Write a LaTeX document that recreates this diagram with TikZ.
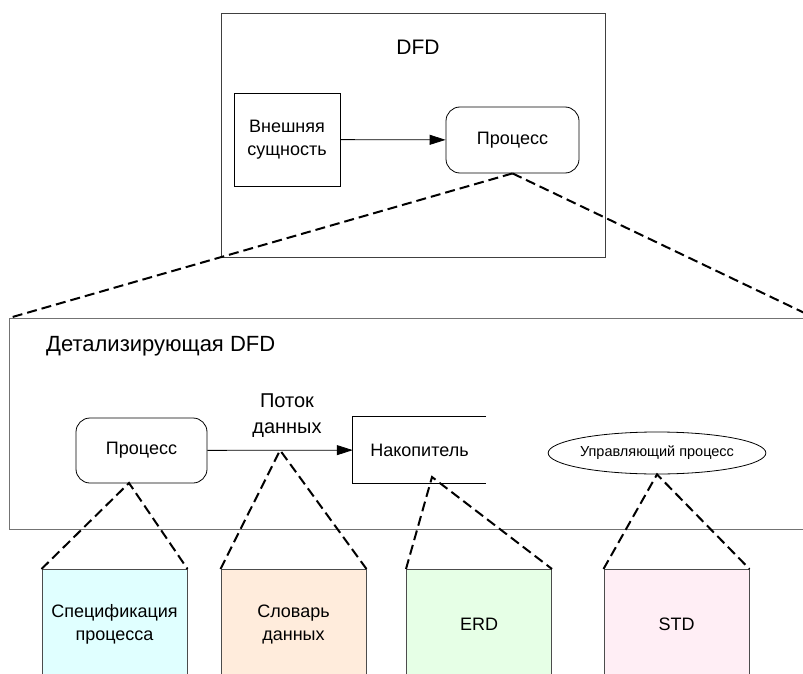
\documentclass[tikz,border=0pt]{standalone}
\usepackage{fontspec}
\setmainfont{Liberation Sans}
\usetikzlibrary{arrows.meta, shapes.geometric}
\definecolor{speccol}{RGB}{224,255,255}
\definecolor{dictcol}{RGB}{255,236,220}
\definecolor{erdcol}{RGB}{230,255,230}
\definecolor{stdcol}{RGB}{255,238,245}
\tikzset{every node/.append style={font=\fontsize{18}{23.5}\selectfont, align=center, inner sep=0pt}}
\tikzset{
  frame/.style={draw=black!75, line width=1pt},
  proc/.style={draw, rounded corners=14pt, line width=0.8pt},
  leaf/.style={draw=black!70, line width=1pt, minimum width=145pt, minimum height=110pt, anchor=north},
  zoomline/.style={line width=2pt, dash pattern=on 10pt off 5pt},
  flow/.style={line width=0.8pt, -{Triangle[length=16pt,width=10pt]}}
}

\begin{document}
\begin{tikzpicture}[x=1pt, y=-1pt]
    \path[use as bounding box] (0,0) rectangle (803,674);
    \clip (0,0) rectangle (803,674);
    % top level DFD
    \node[frame, minimum width=384pt, minimum height=244pt, anchor=north west] (dfd) at (221,13) {};
    \node[font=\fontsize{21}{24}\selectfont] (dfdtitle) at (418,47) {DFD};
    \node[draw, line width=0.8pt, minimum width=106pt, minimum height=93pt] (ext) at (287,139.5) {Внешняя\\сущность};
    \node[proc, minimum width=133pt, minimum height=66pt] (proc) at (512.5,140) {Процесс};
    \draw[flow] (ext) -- (proc);
    % detail DFD
    \node[draw=black!55, line width=1pt, minimum width=805pt, minimum height=211pt, anchor=north west] (detail) at (9,318) {};
    \draw[zoomline] (proc.south) -- (detail.north west);
    \draw[zoomline] (proc.south) -- (detail.north east);
    \node[anchor=west, font=\fontsize{22}{26}\selectfont] (detailtitle) at (46,346) {Детализирующая DFD};
    \node[proc, minimum width=131pt, minimum height=65pt] (subproc) at (141.5,450.5) {Процесс};
    \node[minimum width=133pt, minimum height=66pt] (store) at (419.5,450) {Накопитель};
    \draw[line width=0.8pt] (store.north east) -- (store.north west) -- (store.south west) -- (store.south east);
    \draw[flow] (subproc) -- (store) coordinate[midway] (flowmid);
    \node[font=\fontsize{20}{26}\selectfont] (flowlbl) at (287,416) {Поток\\данных};
    \node[draw, ellipse, line width=0.8pt, minimum width=211pt, minimum height=42pt, font=\fontsize{14.5}{17}\selectfont] (ctrl) at (657,453) {Управляющий процесс};
    % specifications
    \node[leaf, fill=speccol] (spec) at (114.5,569) {Спецификация\\процесса};
    \node[leaf, fill=dictcol] (dict) at (293.5,569) {Словарь\\данных};
    \node[leaf, fill=erdcol] (erd) at (479,569) {ERD};
    \node[leaf, fill=stdcol] (std) at (676.5,569) {STD};
    \coordinate (specapex) at (129,483);
    \coordinate (storeapex) at (432,477);
    \draw[zoomline] (spec.north west) -- (specapex) -- (spec.north east);
    \draw[zoomline] (dict.north west) -- (flowmid) -- (dict.north east);
    \draw[zoomline] (erd.north west) -- (storeapex) -- (erd.north east);
    \draw[zoomline] (std.north west) -- (ctrl.south) -- (std.north east);
\end{tikzpicture}
\end{document}
